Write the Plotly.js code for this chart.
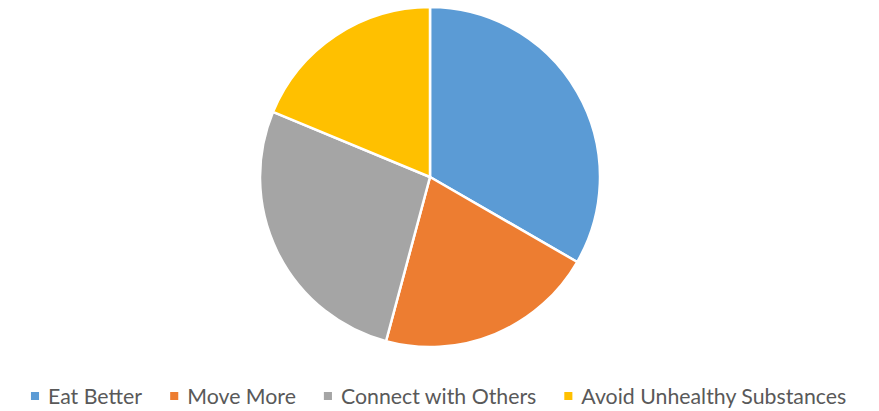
<!DOCTYPE html>
<html>
<head>
<meta charset="utf-8">
<script src="https://cdn.plot.ly/plotly-3.0.1.min.js"></script>
<style>
html,body{margin:0;padding:0;background:#fff;}
#chart{width:879px;height:411px;}
#chart .legendpoints path.legendpie{transform: translate(27px,0px) scale(0.85);}
</style>
</head>
<body>
<div id="chart"></div>
<script>
const categories = ["Eat Better", "Move More", "Connect with Others", "Avoid Unhealthy Substances"];
const values = [16, 10, 13, 9];
const colors = ["#5B9BD5", "#ED7D31", "#A5A5A5", "#FFC000"];

const trace = {
  type: "pie",
  labels: categories,
  values: values,
  sort: false,
  direction: "clockwise",
  rotation: 0,
  textinfo: "none",
  hoverinfo: "label+value+percent",
  marker: { colors: colors, line: { color: "#FFFFFF", width: 2.5 } },
  domain: { x: [0, 1], y: [0, 1] }
};

const layout = {
  width: 879,
  height: 411,
  margin: { l: 0, r: 19, t: 7, b: 64 },
  paper_bgcolor: "#FFFFFF",
  showlegend: true,
  legend: {
    orientation: "h",
    x: 0.5,
    xanchor: "center",
    xref: "paper",
    y: 0.086,
    yref: "container",
    yanchor: "top",
    font: { family: "Lato, sans-serif", size: 21.3, color: "#595959" },
    itemwidth: 30,
    traceorder: "normal"
  },
  font: { family: "Lato, sans-serif" }
};

Plotly.newPlot("chart", [trace], layout, { displayModeBar: false, staticPlot: true });
</script>
</body>
</html>
